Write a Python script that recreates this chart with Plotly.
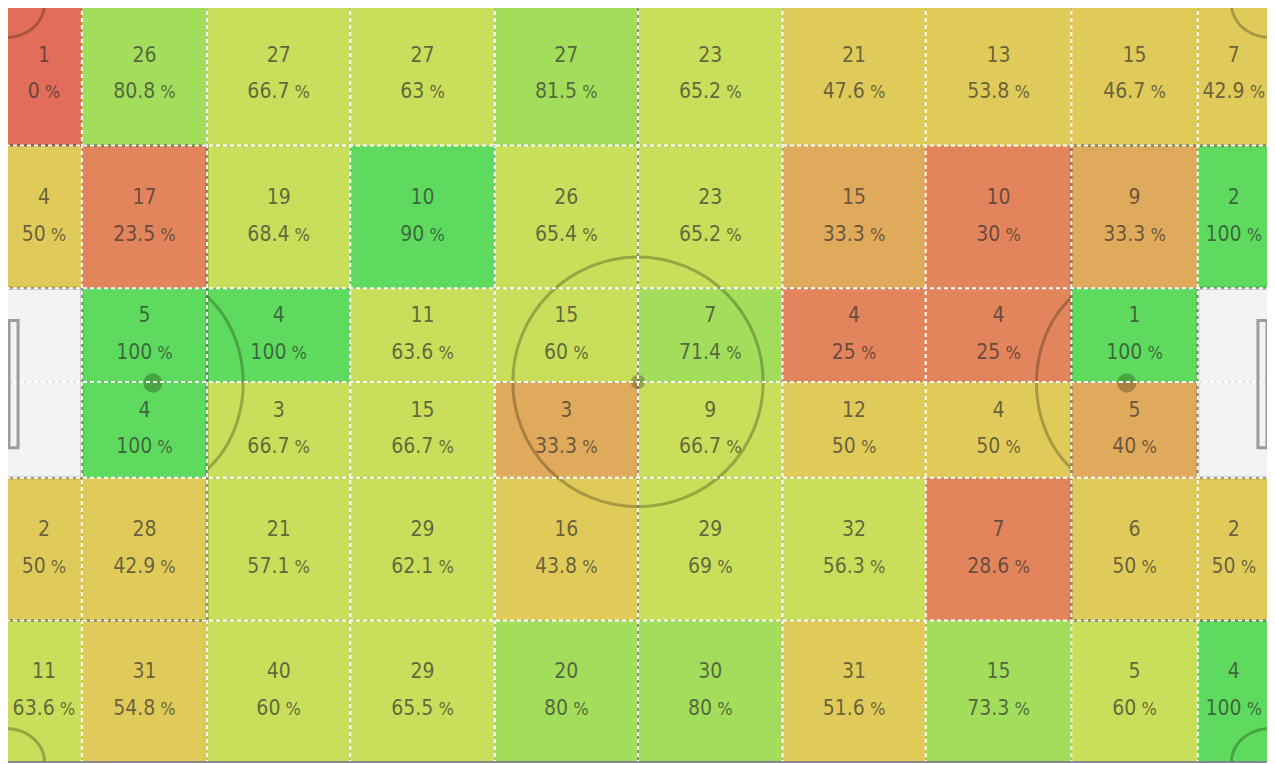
import math
import plotly.graph_objects as go

# zone edges on the pitch (metres), left to right / top to bottom
x_edges = [0, 6.3, 16.7, 28.6, 40.6, 52.5, 64.5, 76.4, 88.5, 99.0, 105]
y_edges = [0, 12.7, 25.5, 33.9, 42.5, 55.3, 68]

# passes per zone (None = goal area, no data)
passes = [
    [1, 26, 27, 27, 27, 23, 21, 13, 15, 7],
    [4, 17, 19, 10, 26, 23, 15, 10, 9, 2],
    [None, 5, 4, 11, 15, 7, 4, 4, 1, None],
    [None, 4, 3, 15, 3, 9, 12, 4, 5, None],
    [2, 28, 21, 29, 16, 29, 32, 7, 6, 2],
    [11, 31, 40, 29, 20, 30, 31, 15, 5, 4],
]

# pass accuracy per zone (%)
accuracy = [
    [0, 80.8, 66.7, 63, 81.5, 65.2, 47.6, 53.8, 46.7, 42.9],
    [50, 23.5, 68.4, 90, 65.4, 65.2, 33.3, 30, 33.3, 100],
    [None, 100, 100, 63.6, 60, 71.4, 25, 25, 100, None],
    [None, 100, 66.7, 66.7, 33.3, 66.7, 50, 50, 40, None],
    [50, 42.9, 57.1, 62.1, 43.8, 69, 56.3, 28.6, 50, 50],
    [63.6, 54.8, 60, 65.5, 80, 80, 51.6, 73.3, 60, 100],
]

# stepped colour scale for accuracy
bin_edges = [0, 20, 31, 41, 55, 70, 85, 100]
bin_colors = ["#e36d5b", "#e2855c", "#e0aa5c", "#e0cb5a", "#c9de5a", "#a3dd5c", "#5edb5e"]

colorscale = []
for i, c in enumerate(bin_colors):
    colorscale.append([bin_edges[i] / 100, c])
    colorscale.append([bin_edges[i + 1] / 100, c])

LINE = "rgba(20,20,0,0.28)"
BORDER = "rgba(120,120,140,0.85)"

# page body has an 8px margin; pitch sits at 5..1270 x 3..762 in the window
PX_X = 1265 / 105
PX_Y = 759 / 68

fig = go.Figure()

fig.add_trace(go.Heatmap(
    z=accuracy, x=x_edges, y=y_edges,
    colorscale=colorscale, zmin=0, zmax=100,
    showscale=False, hoverinfo="skip",
))

# labels
cx, cy, count_txt, pct_txt = [], [], [], []
for r in range(len(passes)):
    for c in range(len(passes[r])):
        if passes[r][c] is None:
            continue
        cx.append((x_edges[c] + x_edges[c + 1]) / 2)
        cy.append((y_edges[r] + y_edges[r + 1]) / 2)
        count_txt.append(str(passes[r][c]))
        pct_txt.append(f"{accuracy[r][c]:g}<span style='font-size:18px'> %</span>")

font = dict(family="DejaVu Sans Condensed, DejaVu Sans, sans-serif", size=21,
            color="rgba(45,45,45,0.68)")
fig.add_trace(go.Scatter(x=cx, y=[v - 1.65 for v in cy], mode="text", text=count_txt,
                         textfont=font, hoverinfo="skip", showlegend=False))
fig.add_trace(go.Scatter(x=cx, y=[v + 1.65 for v in cy], mode="text", text=pct_txt,
                         textfont=font, hoverinfo="skip", showlegend=False))


def ell_path(x0, y0, rx, ry, t0, t1, n=60):
    pts = []
    for i in range(n + 1):
        t = t0 + (t1 - t0) * i / n
        pts.append(f"{x0 + rx * math.cos(t):.3f},{y0 + ry * math.sin(t):.3f}")
    return "M " + " L ".join(pts)


shapes = []
# pitch background
shapes.append(dict(type="rect", x0=0, x1=105, y0=0, y1=68, layer="below",
                   fillcolor="#f3f3f5", line=dict(width=0)))

# pitch markings
mark = dict(color=LINE, width=3)
for x0, x1 in [(0, 16.7), (88.5, 105)]:
    shapes.append(dict(type="rect", x0=x0, x1=x1, y0=12.7, y1=55.3, line=mark))
for x0, x1 in [(0, 6.3), (99.0, 105)]:
    shapes.append(dict(type="rect", x0=x0, x1=x1, y0=25.5, y1=42.5, line=mark))
shapes.append(dict(type="line", x0=52.5, x1=52.5, y0=0, y1=68,
                   line=dict(color="rgba(110,110,130,0.6)", width=2)))
shapes.append(dict(type="circle", x0=52.5 - 10.4, x1=52.5 + 10.4, y0=33.9 - 11.2, y1=33.9 + 11.2, line=mark))
shapes.append(dict(type="circle", x0=52.5 - 0.6, x1=52.5 + 0.6, y0=33.9 - 0.65, y1=33.9 + 0.65,
                   fillcolor=LINE, line=dict(width=0)))
for sx in [12.2, 93.1]:
    shapes.append(dict(type="circle", x0=sx - 0.8, x1=sx + 0.8, y0=34 - 0.87, y1=34 + 0.87,
                       fillcolor=LINE, line=dict(width=0)))
a = math.acos(0.6)
shapes.append(dict(type="path", path=ell_path(12.2, 34, 7.5, 9.7, -a, a), line=mark))
b = math.acos(-0.613)
shapes.append(dict(type="path", path=ell_path(93.1, 34, 7.5, 9.7, b, 2 * math.pi - b), line=mark))
# corner arcs
for (x0, y0, t0) in [(0, 0, 0), (105, 0, math.pi / 2), (105, 68, math.pi), (0, 68, 1.5 * math.pi)]:
    shapes.append(dict(type="path", path=ell_path(x0, y0, 3.2, 3.0, t0, t0 + math.pi / 2, 20), line=mark))

# zone borders
for xe in x_edges[1:-1]:
    shapes.append(dict(type="line", x0=xe, x1=xe, y0=0, y1=68,
                       line=dict(color="rgba(120,120,150,0.25)", width=1)))
    shapes.append(dict(type="line", x0=xe, x1=xe, y0=0, y1=68,
                       line=dict(color="white", width=2, dash="4px,3px")))
for ye in y_edges[1:-1]:
    shapes.append(dict(type="line", x0=0, x1=105, y0=ye, y1=ye,
                       line=dict(color="rgba(120,120,150,0.25)", width=1)))
    shapes.append(dict(type="line", x0=0, x1=105, y0=ye, y1=ye,
                       line=dict(color="white", width=2, dash="4px,3px")))

# outer border
shapes.append(dict(type="rect", x0=0, x1=105, y0=0, y1=68, line=dict(color=BORDER, width=2)))

# goals
for x0, x1 in [(0.25, 1.0), (104.0, 104.75)]:
    shapes.append(dict(type="rect", x0=x0, x1=x1, y0=28.4, y1=39.8,
                       line=dict(color="#9c9c9c", width=3)))

for s in shapes:
    s.setdefault("layer", "above")
    s["xref"] = "x"
    s["yref"] = "y"

fig.update_layout(
    width=1267, height=756,
    margin=dict(l=0, r=0, t=0, b=0),
    paper_bgcolor="white", plot_bgcolor="white",
    shapes=shapes,
    showlegend=False,
    xaxis=dict(range=[2 / PX_X, 105 + 5 / PX_X], visible=False, fixedrange=True),
    yaxis=dict(range=[68 + 2 / PX_Y, 4 / PX_Y], visible=False, fixedrange=True),
)

fig.write_html("out.html")
